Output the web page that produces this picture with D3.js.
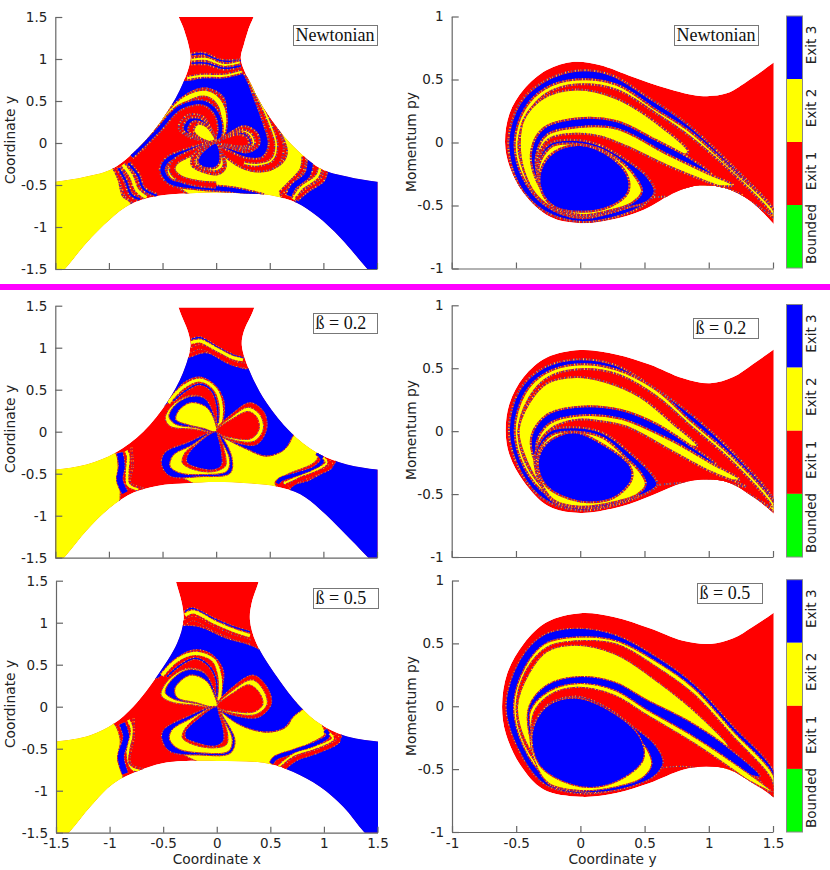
<!DOCTYPE html>
<html><head><meta charset="utf-8">
<script src="https://cdn.jsdelivr.net/npm/d3@7/dist/d3.min.js"></script>
<style>html,body{margin:0;background:#fff}svg{display:block}</style></head>
<body><svg id="c" width="830" height="870"></svg>
<script>
// ---------- values ----------
const exitNames = ["Exit 3","Exit 2","Exit 1","Bounded"];
const exitColours = {1:"#ff0000",2:"#ffff00",3:"#0000ff"};
const barColours = ["#0000ff","#ffff00","#ff0000","#00ff00"];
const xyTicks = [-1.5,-1,-0.5,0,0.5,1,1.5];
const ypyXTicks = [-1,-0.5,0,0.5,1,1.5];
const ypyYTicks = [-1,-0.5,0,0.5,1];
const caseLabels = ["Newtonian","ß = 0.2","ß = 0.5"];
// each layer: [exit, band thickness in data units (0 = filled area), points]
const xyOutline0 = [[-.35,1.6],[-.30,1.35],[-.26,1.18],[-.24,1.0],[-.31,.71],[-.46,.36],[-.68,0],[-.96,-.30],[-1.21,-.40],[-1.5,-.46],[-1.7,-.47],[-1.7,-1.9],[-1.41,-1.5],[-1.21,-1.19],[-.99,-.91],[-.80,-.73],[-.55,-.63],[-.27,-.60],[0,-.59],[.27,-.60],[.54,-.63],[.75,-.71],[.94,-.87],[1.16,-1.13],[1.41,-1.5],[1.7,-1.9],[1.7,-.47],[1.5,-.46],[1.22,-.40],[.97,-.30],[.69,0],[.47,.36],[.32,.71],[.23,1.0],[.26,1.18],[.30,1.35],[.35,1.6]];
const xyLayers0 = [
[2,0,[[-.96,-.30],[-.91,-.44],[-.87,-.63],[-.79,-.72],[-.95,-1.2],[-1.71,-1.87],[-1.71,-.2],[-1.08,-.24]]],
[3,0,[[1.02,-.34],[.91,-.52],[.74,-.67],[.95,-1.2],[1.71,-1.87],[1.71,-.2],[1.08,-.24]]],
[2,0,[[0,0],[.35,-.32],[.57,-.28],[.66,-.12],[.57,.20],[.44,.48],[.32,.71],[.72,.24],[.95,-.1],[.82,-.16],[.80,-.32],[.69,-.48],[.60,-.60],[.63,-.72],[.3,-.75],[-.1,-.7],[-.35,-.53],[-.46,-.32],[-.27,-.10]]],
[1,0,[[.27,.79],[.41,.56],[.53,.28],[.63,-.04],[.58,-.26],[.41,-.34],[.19,-.26],[0,0],[.2,.4]]],
[2,.015,[[.30,.75],[.41,.49],[.49,.26],[.56,-.02],[.52,-.2],[.38,-.26],[.26,-.24]]],
[3,0,[[-.27,.75],[-.12,.79],[.07,.79],[.24,.84],[.29,.75],[.36,.52],[.44,.24],[.49,-.02],[.43,-.17],[.29,-.18],[.13,-.10],[0,0],[.06,.22],[.09,.42],[.06,.55],[-.09,.65],[-.27,.58],[-.46,.34],[-.62,.4],[-.5,.8]]],
[2,.05,[[-.71,-.06],[-.52,.22],[-.4,.44]]],
[2,.045,[[-.49,.26],[-.29,.52],[-.09,.59],[.04,.46],[.07,.20],[.02,.02]]],
[3,.035,[[-.79,-.16],[-.55,.14],[-.34,.42],[-.12,.48],[0,.36],[.04,.16],[.01,.02]]],
[1,0,[[0,0],[-.05,.18],[-.13,.32],[-.27,.33],[-.35,.18],[-.25,.07],[-.12,.03]]],
[3,0,[[0,0],[-.05,.17],[-.14,.29],[-.26,.29],[-.31,.16],[-.21,.07]]],
[1,0,[[0,0],[-.06,.16],[-.15,.25],[-.22,.25],[-.26,.15],[-.18,.07]]],
[2,0,[[0,0],[-.06,.16],[-.12,.22],[-.18,.22],[-.21,.14],[-.15,.06]]],
[1,0,[[0,0],[.13,.12],[.26,.20],[.38,.12],[.40,-.02],[.29,-.11],[.13,-.06]]],
[2,0,[[0,0],[.13,.11],[.25,.16],[.34,.10],[.36,-.02],[.27,-.08],[.12,-.04]]],
[3,0,[[0,0],[.13,.09],[.24,.13],[.31,.08],[.33,-.02],[.25,-.06],[.11,-.03]]],
[1,0,[[0,0],[.13,.08],[.22,.1],[.29,.06],[.3,-.02],[.23,-.04],[.1,-.02]]],
[3,.04,[[0,0],[-.27,-.10],[-.45,-.20],[-.50,-.32],[-.43,-.46],[-.18,-.52],[.16,-.56],[.44,-.64]]],
[1,.035,[[0,0],[-.27,-.14],[-.38,-.22],[-.41,-.32],[-.34,-.42],[-.18,-.48],[0,-.5]]],
[1,0,[[0,0],[-.20,-.12],[-.23,-.26],[-.13,-.34],[.02,-.37],[.09,-.28],[.05,-.10]]],
[2,0,[[0,0],[-.16,-.12],[-.2,-.24],[-.12,-.31],[.02,-.33],[.07,-.26],[.04,-.10]]],
[3,0,[[0,0],[-.15,-.14],[-.17,-.24],[-.09,-.30],[.01,-.28],[.04,-.16]]],
[1,.025,[[-.94,-.30],[-.88,-.46],[-.83,-.62],[-.77,-.69]]],
[3,.02,[[-.91,-.30],[-.84,-.46],[-.79,-.62],[-.71,-.67]]],
[2,.03,[[-.87,-.26],[-.79,-.40],[-.74,-.56],[-.65,-.65]]],
[3,.02,[[-.82,-.24],[-.73,-.38],[-.68,-.54],[-.55,-.63]]],
[1,.02,[[.60,-.60],[.69,-.48],[.80,-.32],[.82,-.16]]],
[3,.05,[[.68,-.63],[.72,-.52],[.85,-.38],[.88,-.20]]],
[2,.025,[[.72,-.67],[.79,-.54],[.94,-.40],[.97,-.30]]],
[1,.02,[[.75,-.67],[.85,-.56],[.99,-.44],[1.02,-.34]]],
[3,.012,[[-.23,1.05],[-.12,1.06],[.04,.98],[.23,.98]]],
[2,.018,[[-.23,.99],[-.09,1.0],[.07,.93],[.22,.96]]],
[3,.014,[[-.23,.95],[-.09,.95],[.07,.89],[.23,.92]]],
[2,.018,[[-.27,.77],[-.12,.80],[.07,.80],[.24,.85]]]
];
const xyOutline1 = [[-.39,1.7],[-.35,1.475],[-.26,1.18],[-.24,1.02],[-.31,.70],[-.46,.345],[-.68,0],[-.94,-.25],[-1.21,-.39],[-1.5,-.45],[-1.7,-.47],[-1.7,-1.9],[-1.41,-1.49],[-1.21,-1.18],[-.99,-.905],[-.77,-.725],[-.55,-.645],[-.27,-.615],[0,-.60],[.29,-.615],[.57,-.655],[.785,-.745],[.97,-.925],[1.19,-1.2],[1.41,-1.49],[1.7,-1.9],[1.7,-.47],[1.5,-.45],[1.22,-.39],[.94,-.25],[.69,0],[.47,.345],[.32,.70],[.24,1.02],[.255,1.18],[.355,1.475],[.39,1.7]];
const xyLayers1 = [
[2,0,[[-.94,-.25],[-.91,-.53],[-.895,-.77],[-1.0,-1.3],[-1.71,-1.87],[-1.71,-.2],[-1.05,-.2]]],
[3,0,[[1.11,-.37],[.88,-.57],[.69,-.675],[1.05,-1.3],[1.71,-1.87],[1.71,-.2],[1.1,-.24]]],
[2,0,[[0,0],[.29,-.21],[.47,-.29],[.63,-.21],[.70,-.09],[.69,.07],[.92,-.05],[.94,-.33],[.66,-.51],[.55,-.60],[.58,-.72],[.2,-.72],[-.1,-.68],[-.3,-.56],[-.43,-.50],[-.4,-.3],[-.2,-.12]]],
[3,0,[[-.27,.88],[-.09,.94],[.10,.82],[.27,.75],[.33,.75],[.55,.40],[.75,.08],[.70,-.09],[.63,-.22],[.47,-.29],[.29,-.21],[.10,-.09],[0,0],[.06,.13],[.075,.345],[0,.54],[-.15,.65],[-.305,.58],[-.49,.305],[-.6,.4],[-.45,.85]]],
[2,.03,[[-.445,.345],[-.305,.535],[-.15,.615],[-.01,.51],[.045,.325],[.04,.125],[.01,.01]]],
[3,.012,[[-.40,.365],[-.27,.50],[-.15,.565],[-.04,.485],[.01,.305],[.015,.105]]],
[1,0,[[0,0],[.16,.225],[.32,.345],[.45,.225],[.47,.03],[.38,-.15],[.22,-.14]]],
[2,0,[[0,0],[.16,.19],[.30,.29],[.41,.2],[.44,.03],[.36,-.11],[.2,-.11]]],
[1,0,[[0,0],[.16,.16],[.30,.24],[.38,.17],[.40,.03],[.33,-.08],[.18,-.08]]],
[2,0,[[0,0],[-.025,.185],[-.12,.405],[-.245,.43],[-.40,.325],[-.475,.165],[-.43,.065],[-.21,.03]]],
[3,0,[[0,0],[-.02,.2],[-.11,.40],[-.24,.42],[-.38,.32],[-.44,.18],[-.38,.09],[-.2,.05]]],
[2,0,[[0,0],[-.03,.18],[-.1,.30],[-.24,.345],[-.35,.25],[-.375,.145],[-.27,.085],[-.12,.04]]],
[3,0,[[0,0],[-.27,-.13],[-.48,-.25],[-.51,-.39],[-.43,-.53],[-.15,-.535],[.13,-.495],[.15,-.33],[.07,-.09]]],
[2,0,[[0,0],[-.24,-.17],[-.40,-.28],[-.43,-.41],[-.34,-.49],[-.12,-.51],[.10,-.47],[.125,-.33],[.05,-.11]]],
[1,0,[[0,0],[-.18,-.14],[-.29,-.25],[-.315,-.37],[-.21,-.45],[-.025,-.475],[.085,-.41],[.09,-.31],[.04,-.09]]],
[3,0,[[0,0],[-.18,-.15],[-.27,-.29],[-.27,-.37],[-.17,-.43],[-.025,-.455],[.05,-.40],[.05,-.25],[.02,-.07]]],
[3,.055,[[-.90,-.25],[-.88,-.41],[-.90,-.57],[-.85,-.725]]],
[2,.025,[[-.84,-.23],[-.82,-.29],[-.83,-.49],[-.82,-.63],[-.725,-.685]]],
[1,.008,[[-.79,-.19],[-.78,-.41],[-.80,-.61],[-.68,-.675]]],
[3,.035,[[.94,-.25],[.99,-.33],[.925,-.43],[.75,-.51],[.60,-.57],[.57,-.615]]],
[2,.018,[[1.0,-.31],[1.03,-.37],[.91,-.47],[.75,-.55],[.63,-.615]]],
[1,.03,[[1.05,-.35],[1.07,-.41],[.925,-.50],[.77,-.575],[.68,-.655]]],
[3,.012,[[-.23,1.10],[-.15,1.12],[.005,1.01],[.16,.91],[.255,.88]]],
[2,.028,[[-.235,1.06],[-.15,1.08],[.005,.98],[.16,.88],[.25,.855]]],
[1,.035,[[-.245,.96],[-.15,1.01],[.005,.92],[.16,.815],[.27,.79]]]
];
const xyOutline2 = [[-.42,1.7],[-.38,1.485],[-.325,1.23],[-.31,1.03],[-.37,.755],[-.56,.36],[-.78,0],[-.96,-.2],[-1.18,-.34],[-1.5,-.415],[-1.7,-.43],[-1.7,-1.9],[-1.38,-1.5],[-1.18,-1.19],[-.96,-.91],[-.71,-.755],[-.47,-.665],[0,-.645],[.47,-.675],[.71,-.775],[.96,-.95],[1.18,-1.19],[1.38,-1.5],[1.7,-1.9],[1.7,-.43],[1.5,-.415],[1.18,-.34],[.96,-.2],[.78,0],[.56,.36],[.37,.755],[.31,1.03],[.325,1.23],[.39,1.485],[.43,1.7]];
const xyLayers2 = [
[2,0,[[-.96,-.2],[-.90,-.40],[-.925,-.635],[-.875,-.835],[-1.0,-1.3],[-1.71,-1.87],[-1.71,-.15],[-1.05,-.15]]],
[3,0,[[1.165,-.36],[.96,-.495],[.68,-.675],[.65,-.73],[.95,-1.3],[1.71,-1.87],[1.71,-.15],[1.1,-.2]]],
[2,0,[[0,0],[.22,-.16],[.435,-.30],[.65,-.24],[.71,-.08],[.72,.05],[.95,-.1],[.99,-.24],[1.01,-.32],[.84,-.455],[.56,-.615],[.50,-.655],[.56,-.755],[.2,-.76],[-.08,-.7],[-.3,-.58],[-.435,-.475],[-.42,-.3],[-.2,-.12]]],
[3,0,[[-.31,.97],[-.155,.95],[.09,.815],[.31,.735],[.5,.6],[.7,.3],[.85,.05],[.715,-.12],[.62,-.26],[.435,-.30],[.22,-.22],[.06,-.08],[0,0],[.045,.20],[.06,.435],[-.06,.635],[-.22,.675],[-.40,.555],[-.56,.335],[-.7,.45],[-.55,.95]]],
[2,.03,[[-.51,.375],[-.37,.555],[-.20,.635],[-.03,.555],[.03,.355],[.03,.16],[.005,.02]]],
[3,.012,[[-.465,.355],[-.34,.495],[-.2,.575],[-.08,.495],[-.005,.32],[0,.12]]],
[1,0,[[0,0],[.155,.24],[.34,.375],[.465,.24],[.51,.04],[.40,-.12],[.22,-.12]]],
[2,0,[[0,0],[.155,.20],[.33,.32],[.43,.21],[.47,.03],[.37,-.09],[.2,-.09]]],
[1,0,[[0,0],[.155,.165],[.30,.26],[.39,.18],[.43,.03],[.35,-.06],[.18,-.06]]],
[2,0,[[0,0],[-.03,.16],[-.125,.415],[-.28,.455],[-.45,.32],[-.52,.14],[-.435,.06],[-.22,.02]]],
[3,0,[[0,0],[-.02,.18],[-.115,.40],[-.27,.44],[-.42,.32],[-.48,.17],[-.4,.09],[-.2,.04]]],
[2,0,[[0,0],[-.03,.16],[-.1,.31],[-.25,.375],[-.39,.22],[-.37,.11],[-.2,.05]]],
[3,0,[[0,0],[-.28,-.12],[-.50,-.28],[-.51,-.40],[-.435,-.535],[-.155,-.575],[.125,-.555],[.17,-.40],[.06,-.12]]],
[2,0,[[0,0],[-.24,-.14],[-.42,-.28],[-.44,-.39],[-.36,-.5],[-.14,-.55],[.11,-.53],[.145,-.39],[.05,-.12]]],
[1,0,[[0,0],[-.19,-.13],[-.30,-.27],[-.32,-.37],[-.22,-.45],[-.03,-.49],[.09,-.45],[.1,-.32],[.04,-.1]]],
[3,0,[[0,0],[-.18,-.15],[-.29,-.29],[-.29,-.37],[-.19,-.43],[-.02,-.47],[.06,-.41],[.06,-.26],[.02,-.08]]],
[3,.055,[[-.885,-.2],[-.845,-.36],[-.895,-.595],[-.855,-.795]]],
[2,.022,[[-.825,-.16],[-.79,-.28],[-.83,-.555],[-.79,-.735],[-.715,-.755]]],
[1,.008,[[-.775,-.14],[-.775,-.36],[-.81,-.675],[-.685,-.745]]],
[3,.035,[[1.01,-.28],[1.04,-.34],[.93,-.435],[.715,-.535],[.545,-.615],[.51,-.675]]],
[2,.018,[[1.055,-.32],[1.085,-.38],[.90,-.495],[.715,-.575],[.575,-.715]]],
[1,.03,[[1.10,-.34],[1.135,-.40],[.93,-.535],[.745,-.615],[.62,-.735]]],
[3,.012,[[-.295,1.13],[-.235,1.17],[-.03,1.05],[.155,.95],[.31,.89]]],
[2,.03,[[-.295,1.09],[-.22,1.13],[-.03,1.01],[.155,.91],[.31,.845]]],
[1,.035,[[-.31,.99],[-.22,1.05],[-.03,.93],[.155,.83],[.31,.775]]]
];
const ypyOutline0 = [[-.585,0],[-.55,.23],[-.44,.42],[-.26,.575],[-.05,.64],[.15,.615],[.41,.52],[.67,.43],[.93,.37],[1.14,.39],[1.32,.50],[1.5,.63],[1.71,.8],[1.71,-.85],[1.5,-.64],[1.32,-.46],[1.14,-.365],[.93,-.34],[.75,-.39],[.49,-.535],[.23,-.615],[0,-.64],[-.235,-.59],[-.44,-.40],[-.55,-.19]];
const ypyLayers0 = [
[3,0,[[1.50,-.52],[1.19,-.19],[.83,.15],[.54,.35],[.23,.54],[-.03,.57],[-.29,.48],[-.47,.31],[-.56,0],[-.48,-.33],[-.29,-.54],[0,-.63],[.28,-.59],[.49,-.50],[.60,-.39],[.93,-.33],[1.26,-.42],[1.53,-.59]]],
[2,0,[[1.5,-.53],[1.19,-.22],[.85,.09],[.59,.26],[.28,.46],[-.03,.50],[-.27,.43],[-.43,.27],[-.51,0],[-.45,-.27],[-.27,-.50],[0,-.60],[.26,-.55],[.47,-.47],[.57,-.39],[.93,-.35],[1.30,-.44],[1.53,-.61]]],
[1,0,[[1.49,-.57],[1.19,-.25],[.85,.05],[.59,.23],[.28,.42],[-.03,.46],[-.26,.39],[-.40,.24],[-.48,0],[-.43,-.24],[-.26,-.47],[0,-.58],[.26,-.53],[.47,-.46],[.62,-.40],[.93,-.36],[1.30,-.46]]],
[2,0,[[.84,-.08],[.65,.11],[.28,.35],[-.03,.42],[-.29,.35],[-.44,.18],[-.47,0],[-.44,-.22],[-.34,-.42],[-.18,-.54],[0,-.59],[.23,-.55],[.41,-.46],[.47,-.35],[.41,-.22],[.59,-.11]]],
[3,0,[[1.02,-.25],[.83,-.11],[.59,.02],[.28,.17],[-.03,.19],[-.29,.11],[-.38,-.06],[-.36,-.25],[-.23,-.46],[0,-.56],[.26,-.51],[.43,-.40],[.54,-.25],[.83,-.22]]],
[2,0,[[1.19,-.34],[.98,-.24],[.67,-.09],[.28,.11],[-.03,.12],[-.26,.06],[-.34,-.09],[-.33,-.26],[-.21,-.46],[0,-.54],[.23,-.50],[.41,-.39],[.67,-.30],[.98,-.34]]],
[1,0,[[1.26,-.42],[.98,-.31],[.67,-.18],[.36,-.03],[.15,.05],[-.03,.07],[-.24,.03],[-.33,-.11],[-.33,-.27],[-.24,-.48],[0,-.54],[.28,-.51],[.52,-.44],[.83,-.43],[1.03,-.42]]],
[3,0,[[-.03,.02],[.15,-.02],[.36,-.14],[.52,-.27],[.58,-.39],[.52,-.47],[.36,-.52],[.18,-.57],[0,-.58],[-.2,-.52],[-.31,-.36],[-.33,-.17],[-.24,-.01]]],
[2,0,[[-.03,-.01],[.15,-.05],[.34,-.17],[.44,-.29],[.48,-.39],[.40,-.48],[.23,-.54],[0,-.575],[-.21,-.49],[-.31,-.33],[-.32,-.18],[-.22,-.03]]],
[3,0,[[0,-.02],[-.21,-.08],[-.31,-.23],[-.30,-.39],[-.2,-.51],[0,-.55],[.23,-.51],[.37,-.40],[.37,-.27],[.23,-.11]]]
];
const ypyOutline1 = [[-.58,0],[-.55,.22],[-.44,.43],[-.26,.585],[0,.645],[.28,.61],[.54,.53],[.80,.42],[1.01,.38],[1.19,.43],[1.34,.53],[1.5,.645],[1.7,.8],[1.7,-.85],[1.5,-.65],[1.34,-.52],[1.16,-.41],[.98,-.385],[.80,-.41],[.57,-.505],[.31,-.60],[0,-.65],[-.25,-.595],[-.44,-.40],[-.55,-.19]];
const ypyLayers1 = [
[3,0,[[1.5,-.53],[1.19,-.17],[.88,.12],[.57,.35],[.26,.53],[-.03,.57],[-.29,.5],[-.47,.33],[-.555,0],[-.46,-.33],[-.28,-.545],[0,-.63],[.28,-.585],[.49,-.505],[.59,-.43],[.93,-.33],[1.27,-.44],[1.53,-.62]]],
[2,0,[[1.5,-.56],[1.19,-.21],[.85,.09],[.59,.33],[.28,.49],[-.03,.53],[-.27,.46],[-.43,.30],[-.51,0],[-.43,-.30],[-.26,-.505],[0,-.60],[.28,-.545],[.46,-.48],[.57,-.41],[.93,-.36],[1.29,-.47],[1.53,-.65]]],
[1,0,[[1.49,-.60],[1.19,-.25],[.85,.05],[.59,.28],[.28,.455],[-.03,.49],[-.26,.42],[-.40,.26],[-.48,0],[-.41,-.28],[-.25,-.475],[0,-.585],[.28,-.52],[.46,-.465],[.62,-.40],[.93,-.37],[1.29,-.49]]],
[2,0,[[.91,-.12],[.72,.06],[.46,.275],[.20,.39],[-.03,.43],[-.26,.38],[-.40,.22],[-.48,0],[-.42,-.23],[-.30,-.44],[-.16,-.545],[0,-.60],[.26,-.545],[.46,-.44],[.50,-.36],[.46,-.23],[.67,-.095]]],
[3,0,[[1.06,-.27],[.85,-.11],[.59,.06],[.31,.17],[0,.195],[-.26,.13],[-.38,-.04],[-.35,-.25],[-.21,-.465],[0,-.57],[.28,-.52],[.46,-.40],[.57,-.25],[.85,-.23]]],
[2,0,[[1.24,-.385],[1.01,-.25],[.70,-.07],[.31,.10],[0,.125],[-.24,.06],[-.34,-.095],[-.31,-.25],[-.18,-.465],[0,-.55],[.26,-.505],[.44,-.385],[.70,-.31],[1.01,-.37]]],
[1,0,[[1.29,-.44],[1.01,-.32],[.70,-.15],[.36,.035],[.15,.08],[-.03,.09],[-.22,.025],[-.33,-.12],[-.33,-.27],[-.24,-.465],[0,-.545],[.28,-.505],[.52,-.44],[.83,-.41],[1.09,-.41]]],
[3,0,[[-.03,.03],[.18,-.015],[.39,-.175],[.54,-.32],[.60,-.425],[.52,-.49],[.36,-.545],[.18,-.6],[0,-.61],[-.21,-.56],[-.33,-.37],[-.35,-.175],[-.24,0]]],
[2,0,[[-.03,-.005],[.18,-.055],[.36,-.215],[.47,-.33],[.51,-.425],[.44,-.505],[.28,-.56],[0,-.60],[-.21,-.545],[-.32,-.36],[-.33,-.175],[-.22,-.03]]],
[3,0,[[-.05,-.01],[-.26,-.095],[-.33,-.255],[-.26,-.44],[0,-.56],[.26,-.53],[.40,-.385],[.39,-.28],[.20,-.12]]]
];
const ypyOutline2 = [[-.61,0],[-.57,.26],[-.44,.50],[-.26,.67],[0,.74],[.26,.71],[.54,.62],[.80,.52],[1.01,.495],[1.19,.54],[1.34,.63],[1.5,.74],[1.7,.9],[1.7,-.9],[1.5,-.72],[1.34,-.61],[1.16,-.505],[.98,-.48],[.80,-.505],[.54,-.61],[.28,-.69],[0,-.72],[-.29,-.66],[-.46,-.48],[-.58,-.22]];
const ypyLayers2 = [
[3,0,[[1.5,-.505],[1.19,-.16],[.88,.18],[.59,.395],[.28,.565],[-.03,.62],[-.29,.565],[-.47,.37],[-.58,0],[-.47,-.37],[-.28,-.62],[0,-.695],[.28,-.665],[.52,-.57],[.645,-.465],[.98,-.345],[1.29,-.48],[1.53,-.72]]],
[2,0,[[1.5,-.545],[1.19,-.20],[.88,.145],[.59,.355],[.28,.52],[-.03,.55],[-.27,.50],[-.43,.315],[-.52,0],[-.44,-.33],[-.26,-.575],[0,-.68],[.28,-.64],[.49,-.56],[.62,-.465],[.98,-.375],[1.32,-.505],[1.53,-.745]]],
[1,0,[[1.49,-.585],[1.19,-.24],[.88,.10],[.59,.315],[.28,.495],[-.03,.52],[-.26,.47],[-.42,.29],[-.50,0],[-.43,-.31],[-.25,-.55],[0,-.66],[.28,-.61],[.49,-.53],[.645,-.48],[.98,-.41],[1.34,-.53],[1.5,-.72]]],
[2,0,[[1.15,-.32],[.93,-.08],[.62,.18],[.28,.41],[-.03,.485],[-.26,.435],[-.40,.26],[-.49,0],[-.43,-.27],[-.26,-.515],[0,-.65],[.28,-.61],[.52,-.505],[.58,-.40],[.54,-.24],[.80,-.16]]],
[3,0,[[1.40,-.56],[1.14,-.32],[.83,-.11],[.52,.05],[.26,.195],[-.03,.235],[-.26,.17],[-.40,0],[-.40,-.215],[-.29,-.48],[0,-.625],[.28,-.585],[.49,-.48],[.62,-.295],[.93,-.40]]],
[2,0,[[1.49,-.68],[1.19,-.45],[.88,-.24],[.52,-.03],[.26,.13],[-.03,.18],[-.25,.115],[-.39,-.04],[-.38,-.215],[-.26,-.48],[0,-.61],[.28,-.57],[.46,-.465],[.80,-.385],[1.19,-.53]]],
[1,0,[[1.5,-.74],[1.19,-.505],[.88,-.29],[.52,-.07],[.26,.09],[-.03,.15],[-.24,.09],[-.365,-.055],[-.37,-.24],[-.26,-.48],[0,-.61],[.28,-.57],[.54,-.505],[.83,-.48],[1.19,-.57]]],
[3,0,[[-.03,.08],[.20,-.005],[.41,-.16],[.58,-.305],[.645,-.45],[.57,-.56],[.39,-.64],[.20,-.68],[0,-.68],[-.24,-.625],[-.35,-.425],[-.385,-.215],[-.26,.01]]],
[2,0,[[-.03,.07],[.20,-.03],[.41,-.215],[.52,-.345],[.555,-.465],[.48,-.57],[.28,-.64],[0,-.67],[-.25,-.61],[-.365,-.41],[-.385,-.215],[-.25,0]]],
[3,0,[[-.03,.065],[-.26,0],[-.375,-.215],[-.31,-.48],[0,-.64],[.28,-.60],[.49,-.425],[.46,-.24],[.26,-.055]]]
];
// ---------- drawing ----------
const svg = d3.select("#c");
svg.append("rect").attr("x",0).attr("y",284).attr("width",830).attr("height",6).attr("fill","#ff00ff");
const FONT = "'DejaVu Sans'";
let uid = 0;
const panels = [
 {kind:"xy",l:55.3,r:377,t:17,b:269,xt:xyTicks,yt:xyTicks,xd:[-1.5,1.5],yd:[-1.5,1.5],top:1.5,out:xyOutline0,lay:xyLayers0,sp:1.9,lab:caseLabels[0],box:[293,25,84,20],ttl:140},
 {kind:"py",l:451.7,r:773,t:16.5,b:268.5,xt:ypyXTicks,yt:ypyYTicks,xd:[-1,1.5],yd:[-1,1],top:1,out:ypyOutline0,lay:ypyLayers0,sp:2,lab:caseLabels[0],box:[674,25,84,20],ttl:142,bar:[786.5,16,16,252]},
 {kind:"xy",l:55.3,r:377,t:305.7,b:557.7,xt:xyTicks,yt:xyTicks,xd:[-1.5,1.5],yd:[-1.5,1.5],top:1.475,out:xyOutline1,lay:xyLayers1,sp:.9,lab:caseLabels[1],box:[313,313,64,20],ttl:429},
 {kind:"py",l:451.7,r:773,t:305.3,b:557,xt:ypyXTicks,yt:ypyYTicks,xd:[-1,1.5],yd:[-1,1],top:1,out:ypyOutline1,lay:ypyLayers1,sp:1.9,lab:caseLabels[1],box:[693,318,65,20],ttl:430,bar:[786.5,304.5,16,252.5]},
 {kind:"xy",l:56,r:377.5,t:580.7,b:832.7,xt:xyTicks,yt:xyTicks,xd:[-1.5,1.5],yd:[-1.5,1.5],top:1.485,out:xyOutline2,lay:xyLayers2,sp:.9,lab:caseLabels[2],box:[313,588,65,20],ttl:704,bottom:"Coordinate x"},
 {kind:"py",l:452,r:773,t:580.5,b:832,xt:ypyXTicks,yt:ypyYTicks,xd:[-1,1.5],yd:[-1,1],top:1,out:ypyOutline2,lay:ypyLayers2,sp:1.1,lab:caseLabels[2],box:[697,583,65,20],ttl:706,bottom:"Coordinate y",bar:[786.5,579.7,16,252.3]}
];
// the fractal basin boundaries are drawn as fine, uneven dashes of the exit colours
function speck(g,d,w){
 g.append("path").attr("d",d).attr("fill","none").attr("stroke","#e8100c").attr("stroke-width",w);
 g.append("path").attr("d",d).attr("fill","none").attr("stroke","#ffd83a").attr("stroke-width",w).attr("stroke-dasharray","0.7 2.3 1 3.3 0.6 1.9");
 g.append("path").attr("d",d).attr("fill","none").attr("stroke","#3a30c8").attr("stroke-width",w).attr("stroke-dasharray","0.8 1.7 0.6 3.1 1.1 2.3").attr("stroke-dashoffset",1.3);
}
panels.forEach(p=>{
 const x=d3.scaleLinear().domain(p.xd).range([p.l,p.r]);
 const y=d3.scaleLinear().domain(p.yd).range([p.b,p.t]);
 const closed=d3.line().x(d=>x(d[0])).y(d=>y(d[1])).curve(d3.curveCatmullRomClosed.alpha(.5));
 const open=d3.line().x(d=>x(d[0])).y(d=>y(d[1])).curve(d3.curveCatmullRom.alpha(.5));
 const a="r"+(uid++),b="o"+(uid++);
 const defs=svg.append("defs");
 defs.append("clipPath").attr("id",a).append("rect").attr("x",p.l).attr("width",p.r-p.l+.5).attr("y",y(p.top)).attr("height",p.b-y(p.top));
 defs.append("clipPath").attr("id",b).append("path").attr("d",closed(p.out));
 const g1=svg.append("g").attr("clip-path",`url(#${a})`);
 const g=g1.append("g").attr("clip-path",`url(#${b})`);
 g.append("path").attr("d",closed(p.out)).attr("fill",exitColours[1]);
 const px=Math.abs(x(1)-x(0));
 p.lay.forEach(([e,w,pts])=>{
  if(w===0){
   const d=closed(pts);
   g.append("path").attr("d",d).attr("fill",exitColours[e]);
   speck(g,d,p.sp);
  } else {
   const d=open(pts);
   speck(g,d,w*px+p.sp*1.6);
   g.append("path").attr("d",d).attr("fill","none").attr("stroke",exitColours[e]).attr("stroke-width",w*px);
  }
 });
 const fmt=d=>String(d);
 const ax=svg.append("g").attr("transform",`translate(${p.l},0)`)
   .call(d3.axisLeft(y).tickValues(p.yt).tickFormat(fmt).tickSizeInner(-7).tickSizeOuter(0).tickPadding(8));
 const bx=svg.append("g").attr("transform",`translate(0,${p.b})`)
   .call(d3.axisBottom(x).tickValues(p.xt).tickFormat(p.bottom?fmt:()=>"").tickSizeInner(-6).tickSizeOuter(0).tickPadding(6));
 [ax,bx].forEach(s=>{
  s.selectAll("path,line").attr("stroke","#666").attr("stroke-width",1.2);
  s.selectAll("text").attr("font-family",FONT).attr("font-size",13.5).attr("fill","#222");
 });
 const tx=p.kind==="xy"?15:416;
 svg.append("text").attr("transform",`translate(${tx},${p.ttl}) rotate(-90)`).attr("text-anchor","middle")
   .attr("font-family",FONT).attr("font-size",13.8).attr("fill","#222").text(p.kind==="xy"?"Coordinate y":"Momentum py");
 if(p.bottom) svg.append("text").attr("x",(p.l+p.r)/2).attr("y",864).attr("text-anchor","middle")
   .attr("font-family",FONT).attr("font-size",13.8).attr("fill","#222").text(p.bottom);
 const [bl,bt,bw,bh]=p.box;
 svg.append("rect").attr("x",bl+.5).attr("y",bt+.5).attr("width",bw).attr("height",bh).attr("fill","#fff").attr("stroke","#777").attr("stroke-width",1);
 svg.append("text").attr("x",bl+2.5).attr("y",bt+15.5).attr("font-family","'Liberation Serif'").attr("font-size",18).attr("fill","#111").text(p.lab);
 if(p.bar){
  const [cx,ct,cw,ch]=p.bar;
  const band=d3.scaleBand().domain(exitNames).range([ct,ct+ch]);
  svg.append("g").selectAll("rect").data(exitNames).join("rect")
   .attr("x",cx).attr("width",cw).attr("y",d=>band(d)).attr("height",band.bandwidth())
   .attr("fill",(d,i)=>barColours[i]);
  svg.append("rect").attr("x",cx).attr("y",ct).attr("width",cw).attr("height",ch).attr("fill","none").attr("stroke","#888").attr("stroke-width",1);
  exitNames.forEach(n=>{
   svg.append("text").attr("transform",`translate(816,${band(n)+band.bandwidth()/2-2.5}) rotate(-90)`)
    .attr("text-anchor","middle").attr("font-family",FONT).attr("font-size",13.5).attr("fill","#222").text(n);
  });
 }
});
</script></body></html>
